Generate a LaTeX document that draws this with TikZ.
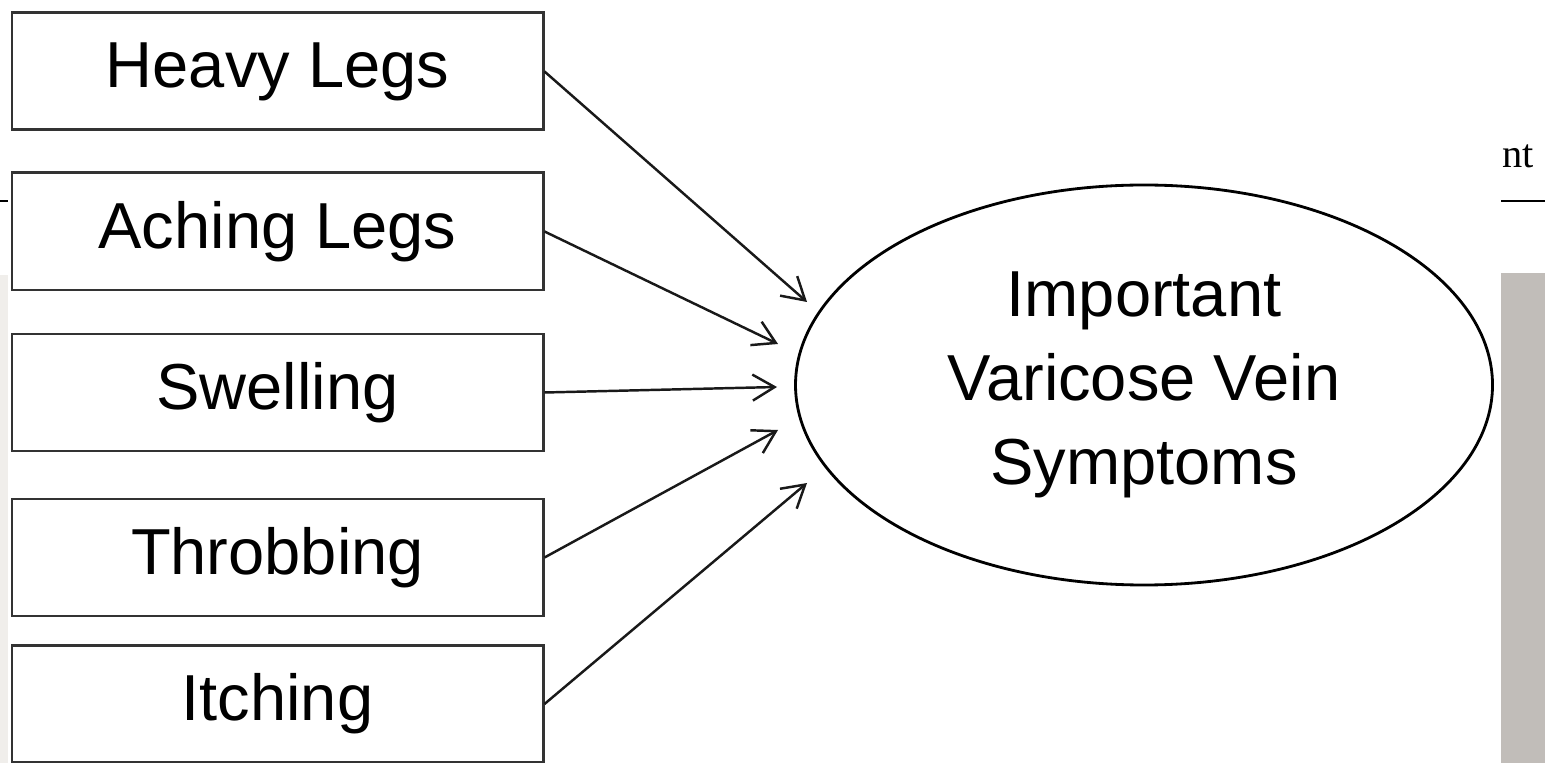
\documentclass[tikz,border=0pt]{standalone}
\usepackage{fontspec}
\setmainfont{Liberation Sans}
\newfontfamily\pagefont{Liberation Serif}
\usetikzlibrary{shapes.geometric,arrows.meta,positioning}

\definecolor{pagestrip}{RGB}{240,238,235}
\definecolor{pagepanel}{RGB}{193,189,185}

\begin{document}
\begin{tikzpicture}[
        symptom/.style={draw=black!80, line width=0.85pt, minimum width=5.31cm, minimum height=1.17cm, inner sep=0pt, font=\fontsize{18.5}{24}\selectfont},
        link/.style={black!90, line width=0.7pt, -{Straight Barb[length=0.22cm,width=0.26cm]}}
    ]
        \useasboundingbox (0,0) rectangle (15.45,-7.63);

        % bits of the page round the figure
        \fill[pagestrip] (0,-2.75) rectangle (0.08,-7.63);
        \fill[pagepanel] (15.01,-2.73) rectangle (15.45,-7.63);
        \draw[line width=0.8pt] (0,-2.01) -- (0.08,-2.01);
        \draw[line width=0.8pt] (15.01,-2.01) -- (15.45,-2.01);
        \node[anchor=base west, inner sep=0pt, font=\pagefont\fontsize{11.5}{13}\selectfont] (frag) at (15.02,-1.68) {nt};

        \node[symptom] (heavy) at (2.775,-0.715) {Heavy Legs};
        \node[symptom] (aching) at (2.775,-2.315) {Aching Legs};
        \node[symptom] (swelling) at (2.775,-3.925) {Swelling};
        \node[symptom] (throbbing) at (2.775,-5.575) {Throbbing};
        \node[symptom] (itching) at (2.775,-7.04) {Itching};

        \node[draw, ellipse, line width=0.8pt, minimum width=6.97cm, minimum height=4.0cm, inner sep=0pt, align=center, font=\fontsize{18.5}{24}\selectfont] (veins) at (11.44,-3.85) {Important\\Varicose Vein\\Symptoms};

        \coordinate (toheavy) at (8.07,-3.02);
        \coordinate (toaching) at (7.78,-3.44);
        \coordinate (toswelling) at (7.77,-3.87);
        \coordinate (tothrobbing) at (7.78,-4.30);
        \coordinate (toitching) at (8.07,-4.83);

        \draw[link] (heavy.east) -- (toheavy);
        \draw[link] (aching.east) -- (toaching);
        \draw[link] (swelling.east) -- (toswelling);
        \draw[link] (throbbing.east) -- (tothrobbing);
        \draw[link] (itching.east) -- (toitching);
    \end{tikzpicture}
\end{document}
